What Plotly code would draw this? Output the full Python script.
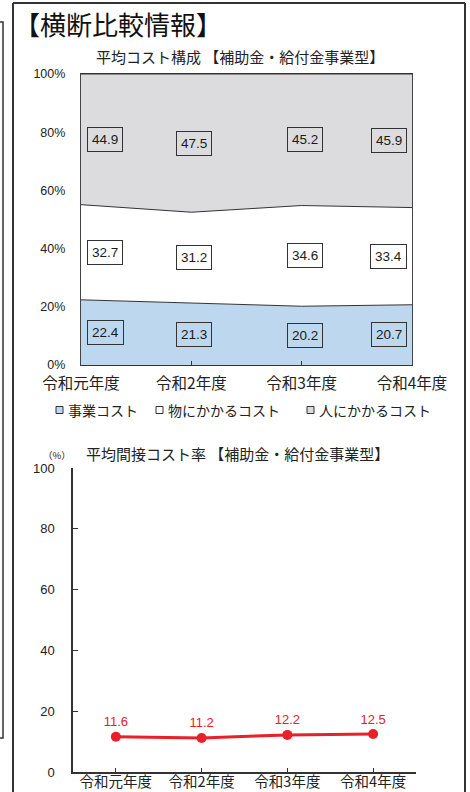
import plotly.graph_objects as go

# ---------------- data ----------------
categories = ["令和元年度", "令和2年度", "令和3年度", "令和4年度"]
series_names = ["事業コスト", "物にかかるコスト", "人にかかるコスト"]
jigyo_cost = [22.4, 21.3, 20.2, 20.7]
mono_cost = [32.7, 31.2, 34.6, 33.4]
hito_cost = [44.9, 47.5, 45.2, 45.9]
indirect_rate = [11.6, 11.2, 12.2, 12.5]
pct_ticks = [0, 20, 40, 60, 80, 100]
rate_ticks = [0, 20, 40, 60, 80, 100]

main_title = "【横断比較情報】"
title1 = "平均コスト構成 【補助金・給付金事業型】"
title2 = "平均間接コスト率 【補助金・給付金事業型】"
unit2 = "（%）"

# ---------------- styling ----------------
W, H = 470, 792
JP = "Noto Sans CJK JP"
NUM = "Liberation Sans, Arial"
fills = ["#bdd7ee", "#ffffff", "#dcdcdf"]
RED = "#e8202a"


def px(x):
    return x / W


def py(y):
    return 1 - y / H


fig = go.Figure()

# ---------- chart 1: stacked area ----------
xi = list(range(len(categories)))
for name, vals, fc in zip(series_names, [jigyo_cost, mono_cost, hito_cost], fills):
    fig.add_trace(go.Scatter(
        x=xi, y=vals, name=name, stackgroup="one", mode="lines",
        line=dict(color="#333333", width=1), fillcolor=fc,
        hoverinfo="skip", showlegend=False, xaxis="x", yaxis="y"))

# boxed value labels at the middle of each band
base = [0.0] * len(categories)
n = len(categories)
for vals in [jigyo_cost, mono_cost, hito_cost]:
    for i, v in enumerate(vals):
        if i == 0:
            xa, xs = "left", 6
        elif i == n - 1:
            xa, xs = "right", -5
        else:
            xa, xs = "center", 3
        fig.add_annotation(
            x=i, y=base[i] + v / 2, xref="x", yref="y", text=f"{v:.1f}",
            showarrow=False, xanchor=xa, xshift=xs, yanchor="middle",
            font=dict(family=NUM, size=13.5, color="#1a1a1a"),
            bgcolor="rgba(255,255,255,0)", bordercolor="#333", borderwidth=1, borderpad=4)
        base[i] += v

# ---------- chart 2: line ----------
fig.add_trace(go.Scatter(
    x=categories, y=indirect_rate, mode="lines+markers+text",
    text=[f"{v:.1f}" for v in indirect_rate], textposition="top center",
    textfont=dict(family=NUM, size=13, color=RED),
    line=dict(color=RED, width=3), marker=dict(color=RED, size=10),
    hoverinfo="skip", showlegend=False, xaxis="x2", yaxis="y2", cliponaxis=False))

fig.update_layout(
    width=W, height=H, margin=dict(l=0, r=0, t=0, b=0, autoexpand=False),
    paper_bgcolor="white", plot_bgcolor="white", showlegend=False,
    xaxis=dict(domain=[px(81), px(412)], range=[0, 3], tickvals=xi, ticktext=categories,
               showgrid=False, zeroline=False, showline=True, linecolor="#333", linewidth=1.2,
               mirror=True, ticks="inside", ticklen=4, tickcolor="#333", automargin=False,
               ticklabelstandoff=4,
               tickfont=dict(family=JP, size=15.5, color="#222"), anchor="y", fixedrange=True),
    yaxis=dict(domain=[py(365), py(74)], range=[0, 100], tickvals=pct_ticks,
               ticktext=[f"{t}%" for t in pct_ticks], automargin=False,
               showgrid=False, zeroline=False, showline=True, linecolor="#444", linewidth=1.2,
               mirror=True, ticks="", ticklabelstandoff=12,
               tickfont=dict(family=NUM, size=12.5, color="#222"), anchor="x", fixedrange=True),
    xaxis2=dict(domain=[px(73), px(416)], range=[-0.5, 3.5], type="category",
                showgrid=False, zeroline=False, showline=True, linecolor="#333", linewidth=1.5,
                ticks="inside", ticklen=4, tickcolor="#333", automargin=False,
                ticklabelstandoff=-4,
                tickfont=dict(family=JP, size=14.5, color="#222"), anchor="y2", fixedrange=True),
    yaxis2=dict(domain=[py(772), py(468)], range=[0, 100], tickvals=rate_ticks,
                showgrid=False, zeroline=False, showline=True, linecolor="#333", linewidth=1.5,
                ticks="inside", ticklen=5, tickcolor="#333", ticklabelstandoff=14, automargin=False,
                tickfont=dict(family=NUM, size=13, color="#222"), anchor="x2", fixedrange=True),
)

# titles
fig.add_annotation(x=px(12), y=py(24), xref="paper", yref="paper", text=main_title,
                   showarrow=False, xanchor="left", yanchor="middle",
                   font=dict(family=JP, size=26, color="#111"))
fig.add_annotation(x=px(240), y=py(56), xref="paper", yref="paper", text=title1,
                   showarrow=False, xanchor="center", yanchor="middle",
                   font=dict(family=JP, size=15, color="#222"))
fig.add_annotation(x=px(237), y=py(453), xref="paper", yref="paper", text=title2,
                   showarrow=False, xanchor="center", yanchor="middle",
                   font=dict(family=JP, size=15, color="#222"))
fig.add_annotation(x=px(57), y=py(455), xref="paper", yref="paper", text=unit2,
                   showarrow=False, xanchor="center", yanchor="middle",
                   font=dict(family=JP, size=9.5, color="#222"))

# custom legend (squares + text)
leg_sq_x = [56, 156, 307]
leg_tx_x = [66, 166, 317]
leg_y = 410
for name, fc, sx, tx in zip(series_names, fills, leg_sq_x, leg_tx_x):
    fig.add_shape(type="rect", xref="paper", yref="paper",
                  x0=px(sx), x1=px(sx + 7), y0=py(leg_y + 3.5), y1=py(leg_y - 3.5),
                  fillcolor=fc, line=dict(color="#333", width=1))
    fig.add_annotation(x=px(tx), y=py(leg_y), xref="paper", yref="paper", text=name,
                       showarrow=False, xanchor="left", yanchor="middle",
                       font=dict(family=JP, size=14, color="#222"))

# frames
frame = dict(color="#333", width=2)
fig.add_shape(type="line", xref="paper", yref="paper", x0=px(13), x1=px(465), y0=py(3), y1=py(3), line=frame)
fig.add_shape(type="line", xref="paper", yref="paper", x0=px(13), x1=px(13), y0=py(3), y1=py(800), line=frame)
fig.add_shape(type="line", xref="paper", yref="paper", x0=px(465), x1=px(465), y0=py(3), y1=py(800), line=frame)
fig.add_shape(type="path", xref="paper", yref="paper",
              path=f"M 0 {py(22)} L {px(3)} {py(22)} L {px(3)} {py(738)} L 0 {py(738)}",
              line=dict(color="#333", width=1.5))

fig.write_html("out.html")
